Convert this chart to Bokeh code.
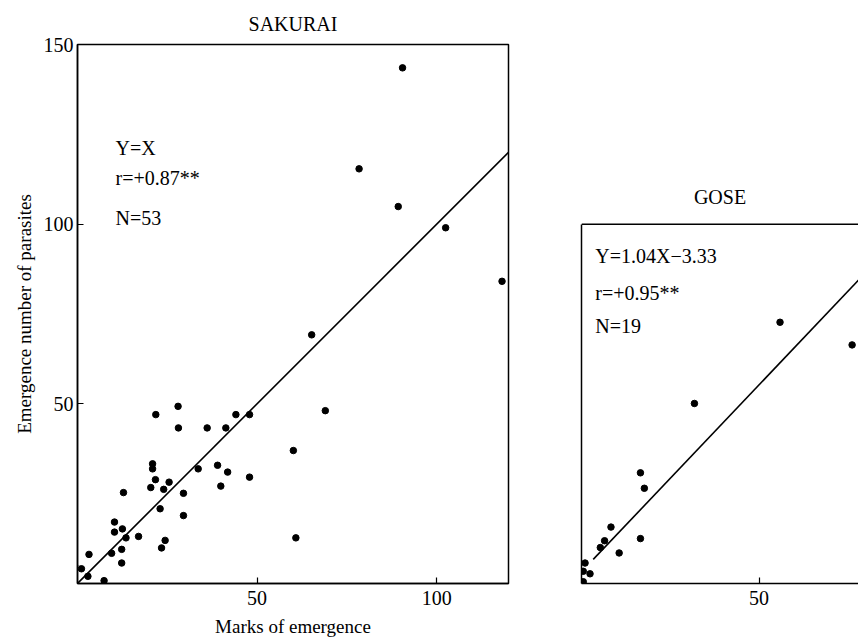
from bokeh.plotting import figure
from bokeh.layouts import row
from bokeh.models import Range1d, FixedTicker, Label, Span
from bokeh.embed import file_html
from bokeh.resources import INLINE

FONT = "Liberation Serif"

# ---- data ----
sak_x = [-0.8, 1.1, 3.2, 2.9, 7.4, 9.5, 10.3, 10.3, 12.5, 13.5, 12.3, 12.3, 12.8, 17.0, 20.4,
         20.9, 20.9, 21.7, 21.8, 23.0, 24.0, 23.4, 24.4, 25.5, 28.0, 28.1, 29.5, 29.5, 33.6, 36.1,
         39.0, 39.9, 41.3, 41.8, 44.1, 47.9, 47.9, 60.1, 60.8, 65.2, 69.0, 78.4, 89.3, 90.5, 102.5,
         118.2]
sak_y = [5.0, 4.1, 8.1, 2.0, 0.8, 8.4, 17.1, 14.3, 15.2, 12.7, 9.5, 5.7, 25.3, 13.1, 26.7,
         33.3, 31.9, 28.9, 47.0, 20.8, 26.2, 9.9, 12.0, 28.2, 49.3, 43.3, 25.1, 18.9, 31.9, 43.3,
         32.9, 27.1, 43.3, 31.0, 47.0, 47.0, 29.6, 37.0, 12.7, 69.2, 48.1, 115.4, 104.9, 143.5, 99.0,
         84.1]
sak_fit_x = [0, 120]
sak_fit_y = [0, 120]

gose_x = [55.9, 76.2, 31.8, 16.6, 17.7, 16.6, 8.3, 6.5, 5.3, 10.6, 1.0, 0.5, 2.4, 0.5]
gose_y = [72.7, 66.4, 50.1, 30.8, 26.5, 12.5, 15.7, 11.9, 10.0, 8.5, 5.7, 3.4, 2.7, 0.5]
gose_fit_x = [3.3, 80]
gose_fit_y = [6.7, 86.5]
gose_top = 100  # upper limit of the GOSE panel's y scale

sak_ticks_x = [50, 100]
sak_ticks_y = [50, 100, 150]
gose_ticks_x = [50]

sak_text = ["Y=X", "r=+0.87**", "N=53"]
sak_text_y = [121.2, 112.8, 101.7]
gose_text = ["Y=1.04X\u22123.33", "r=+0.95**", "N=19"]
gose_text_y = [91.1, 80.8, 71.6]


def style_axis(ax, ticks, label_size="20px"):
    ax.ticker = FixedTicker(ticks=ticks)
    ax.major_tick_in = 6
    ax.major_tick_out = 0
    ax.minor_tick_line_color = None
    ax.major_tick_line_color = "black"
    ax.major_tick_line_width = 1.2
    ax.axis_line_color = "black"
    ax.axis_line_width = 1.5
    ax.major_label_text_font = FONT
    ax.major_label_text_font_size = label_size
    ax.major_label_text_color = "black"
    ax.axis_label_text_font = FONT
    ax.axis_label_text_font_size = "19px"
    ax.axis_label_text_font_style = "normal"
    ax.axis_label_text_color = "black"


# ---- SAKURAI ----
p1 = figure(frame_width=431, frame_height=539,
            x_range=Range1d(0, 120), y_range=Range1d(0, 150),
            output_backend="svg", toolbar_location=None,
            min_border_left=77, min_border_right=20, min_border_top=44, min_border_bottom=58,
            title="SAKURAI",
            x_axis_label="Marks of emergence", y_axis_label="Emergence number of parasites")
p1.grid.visible = False
p1.outline_line_color = "black"
p1.outline_line_width = 1.5
p1.background_fill_color = "white"
p1.border_fill_color = "white"
p1.title.align = "center"
p1.title.text_font = FONT
p1.title.text_font_size = "20px"
p1.title.text_font_style = "normal"
p1.title.text_color = "black"
p1.title.standoff = 20
style_axis(p1.xaxis[0], sak_ticks_x)
style_axis(p1.yaxis[0], sak_ticks_y)
p1.xaxis[0].major_label_standoff = 7
p1.xaxis[0].axis_label_standoff = 8
p1.yaxis[0].major_label_standoff = 4
p1.yaxis[0].axis_label_standoff = 6

p1.line(sak_fit_x, sak_fit_y, line_color="black", line_width=1.6)
p1.scatter(sak_x, sak_y, size=6.5, color="black")
for t, ty in zip(sak_text, sak_text_y):
    p1.add_layout(Label(x=10.6, y=ty, text=t, text_font=FONT, text_font_size="20px",
                        text_baseline="middle", text_align="left", text_color="black"))

# ---- GOSE ----
p2 = figure(frame_width=277, frame_height=539,
            x_range=Range1d(0, 78), y_range=Range1d(0, 150),
            output_backend="svg", toolbar_location=None,
            min_border_left=53, min_border_right=0, min_border_top=44, min_border_bottom=58)
p2.grid.visible = False
p2.outline_line_color = None
p2.background_fill_color = "white"
p2.border_fill_color = "white"
style_axis(p2.xaxis[0], gose_ticks_x)
p2.xaxis[0].major_label_standoff = 7
style_axis(p2.yaxis[0], [])
p2.yaxis[0].bounds = (0, gose_top)
p2.add_layout(Span(location=gose_top, dimension="width", line_color="black", line_width=1.5))
p2.add_layout(Label(x=39, y=gose_top, y_offset=27, text="GOSE", text_font=FONT,
                    text_font_size="20px", text_align="center", text_baseline="middle",
                    text_color="black"))

p2.line(gose_fit_x, gose_fit_y, line_color="black", line_width=1.6)
p2.scatter(gose_x, gose_y, size=6.5, color="black")
for t, ty in zip(gose_text, gose_text_y):
    p2.add_layout(Label(x=3.9, y=ty, text=t, text_font=FONT, text_font_size="20px",
                        text_baseline="middle", text_align="left", text_color="black"))

layout = row(p1, p2)
open("out.html", "w").write(file_html(layout, INLINE))
